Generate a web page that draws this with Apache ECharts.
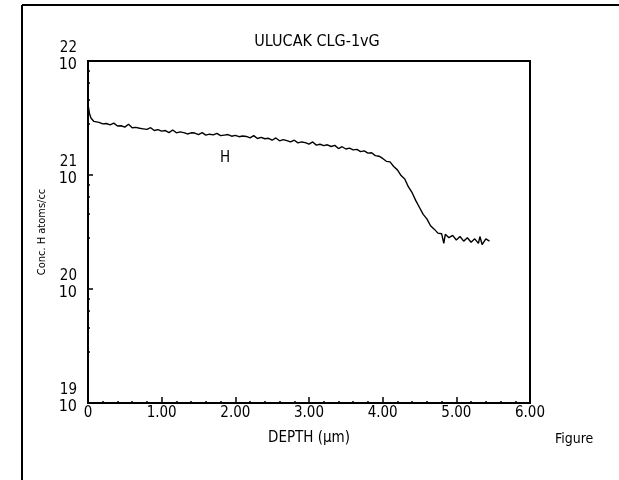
<!DOCTYPE html>
<html>
<head>
<meta charset="utf-8">
<style>html,body{margin:0;padding:0;background:#fff;}#c{width:619px;height:480px;}</style>
<script src="https://cdn.jsdelivr.net/npm/echarts@6/dist/echarts.min.js"></script>
</head>
<body>
<div id="c"></div>
<script>
const titleText = 'ULUCAK CLG-1vG';
const xName = 'DEPTH (\u00b5m)';
const yName = 'Conc. H atoms/cc';
const seriesName = 'H';
const figureText = 'Figure';
const xTicks = [0, 1, 2, 3, 4, 5, 6];
const yTickExponents = [19, 20, 21, 22];
const depth = [0,0.01,0.02,0.04,0.06,0.08,0.10,0.15,0.20,0.25,0.30,0.35,0.40,0.45,0.50,0.55,0.60,0.65,0.70,0.75,0.80,0.85,0.90,0.95,1.00,1.05,1.10,1.15,1.20,1.25,1.30,1.35,1.40,1.45,1.50,1.55,1.60,1.65,1.70,1.75,1.80,1.85,1.90,1.95,2.00,2.05,2.10,2.15,2.20,2.25,2.30,2.35,2.40,2.45,2.50,2.55,2.60,2.65,2.70,2.75,2.80,2.85,2.90,2.95,3.00,3.05,3.10,3.15,3.20,3.25,3.30,3.35,3.40,3.45,3.50,3.55,3.60,3.65,3.70,3.75,3.80,3.85,3.90,3.95,4.00,4.05,4.10,4.15,4.20,4.25,4.30,4.35,4.40,4.45,4.50,4.55,4.60,4.65,4.70,4.75,4.80,4.83,4.85,4.90,4.95,5.00,5.05,5.10,5.15,5.20,5.25,5.30,5.32,5.35,5.40,5.45];
const logConc = [21.62,21.58,21.54,21.50,21.49,21.47,21.475,21.462,21.448,21.452,21.44,21.455,21.43,21.432,21.42,21.445,21.415,21.418,21.41,21.405,21.40,21.415,21.39,21.398,21.385,21.39,21.372,21.395,21.37,21.378,21.372,21.36,21.37,21.368,21.355,21.372,21.35,21.358,21.352,21.365,21.345,21.35,21.355,21.34,21.348,21.336,21.342,21.338,21.325,21.345,21.32,21.33,21.318,21.322,21.305,21.325,21.30,21.31,21.302,21.29,21.305,21.282,21.29,21.284,21.27,21.29,21.262,21.27,21.258,21.265,21.25,21.26,21.232,21.248,21.228,21.236,21.22,21.225,21.205,21.212,21.192,21.195,21.17,21.165,21.145,21.12,21.115,21.075,21.045,20.995,20.965,20.895,20.845,20.775,20.715,20.655,20.615,20.555,20.525,20.49,20.485,20.40,20.48,20.45,20.47,20.43,20.46,20.42,20.45,20.41,20.44,20.40,20.46,20.39,20.44,20.42];
const labelPos = [1.86, 21.15];

const FONT = "'Liberation Sans Narrow','Arial Narrow','DejaVu Sans Condensed',sans-serif";
const chart = echarts.init(document.getElementById('c'), null, {renderer: 'canvas'});
const data = depth.map((d, i) => [d, Math.pow(10, logConc[i])]);
chart.setOption({
  animation: false,
  backgroundColor: '#fff',
  title: {text: titleText, left: 312, top: 29, textAlign: 'center',
    textStyle: {fontFamily: FONT, fontSize: 16, fontWeight: 'normal', color: '#000'}},
  grid: {left: 88, right: 89, top: 61, bottom: 77, show: true, borderColor: '#000', borderWidth: 2, backgroundColor: 'transparent'},
  xAxis: {
    type: 'value', min: xTicks[0], max: xTicks[xTicks.length - 1], interval: 1,
    name: xName, nameLocation: 'middle', nameGap: 28,
    nameTextStyle: {fontFamily: FONT, fontSize: 15, color: '#000'},
    axisLine: {show: true, lineStyle: {color: '#000', width: 2}},
    axisTick: {show: true, inside: true, length: 6, lineStyle: {color: '#000', width: 1.5}},
    minorTick: {show: true, splitNumber: 5, length: 2, lineStyle: {color: '#000', width: 1.5}},
    splitLine: {show: false},
    axisLabel: {fontFamily: FONT, fontSize: 15, color: '#000', margin: 3,
      formatter: v => v === 0 ? '0' : v.toFixed(2)}
  },
  yAxis: {
    type: 'log', logBase: 10, min: Math.pow(10, yTickExponents[0]), max: Math.pow(10, yTickExponents[yTickExponents.length - 1]),
    name: yName, nameLocation: 'middle', nameGap: 39, nameRotate: 90,
    nameTextStyle: {fontFamily: FONT, fontSize: 11, color: '#000'},
    axisLine: {show: true, lineStyle: {color: '#000', width: 2}},
    axisTick: {show: true, inside: true, length: 5, lineStyle: {color: '#000', width: 1.5}},
    minorTick: {show: true, length: 2, lineStyle: {color: '#000', width: 1.5}},
    splitLine: {show: false},
    axisLabel: {margin: 11, color: '#000', padding: [0, 0, 10, 0],
      formatter: v => '{e|' + Math.round(Math.log10(v)) + '}\n{b|10}',
      rich: {
        e: {fontFamily: FONT, fontSize: 15, lineHeight: 17, color: '#000', align: 'right'},
        b: {fontFamily: FONT, fontSize: 16, lineHeight: 16, color: '#000', align: 'right'}
      }}
  },
  series: [{
    type: 'line', name: seriesName, data: data, showSymbol: false, symbol: 'none',
    lineStyle: {color: '#000', width: 1.4},
    markPoint: {symbol: 'circle', symbolSize: 0,
      label: {show: true, formatter: seriesName, fontFamily: FONT, fontSize: 15, color: '#000'},
      data: [{coord: [labelPos[0], Math.pow(10, labelPos[1])]}]}
  }],
  graphic: [
    {type: 'line', shape: {x1: 22, y1: 5, x2: 619, y2: 5}, style: {stroke: '#000', lineWidth: 2}},
    {type: 'line', shape: {x1: 22, y1: 5, x2: 22, y2: 480}, style: {stroke: '#000', lineWidth: 2}},
    {type: 'text', left: 555, top: 432, style: {text: figureText, fontFamily: FONT, fontSize: 14, fill: '#000'}}
  ]
});
</script>
</body>
</html>
